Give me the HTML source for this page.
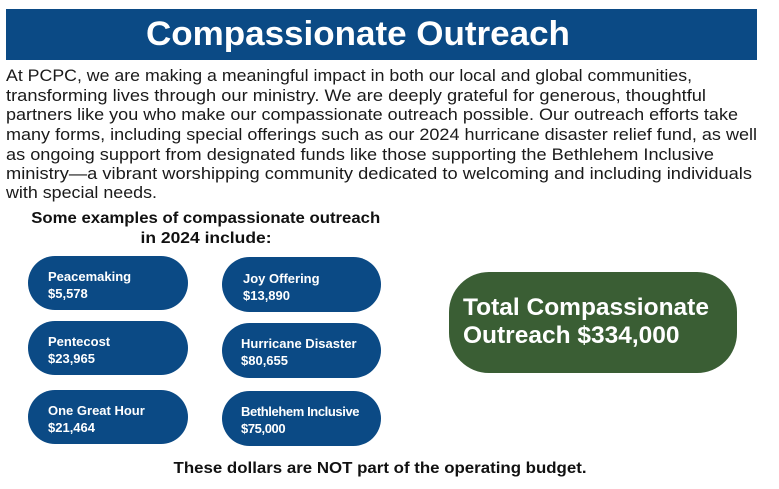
<!DOCTYPE html>
<html><head><meta charset="utf-8"><style>
body{margin:0;width:779px;height:489px;background:#fff;position:relative;overflow:hidden;font-family:"Liberation Sans",sans-serif}
.abs{position:absolute;white-space:nowrap}
.hdr{left:6px;top:9px;width:751px;height:51px;background:#0b4a85}
.title{left:0;top:9px;width:716px;height:51px;line-height:51px;text-align:center;color:#fff;font-weight:bold;font-size:34px}
.ln{left:6px;font-size:17px;color:#1a1a1a;transform-origin:0 50%;height:20px;line-height:20px}
.sub{font-weight:bold;font-size:16px;color:#111;transform-origin:50% 50%;text-align:center}
.pill{background:#0b4a85;border-radius:28px;color:#fff;font-weight:bold;font-size:13px;line-height:17px;box-sizing:border-box}
.green{left:449px;top:272px;width:288px;height:101px;background:#3a5e34;border-radius:40px;color:#fff;font-weight:bold;font-size:24.5px;line-height:28px;padding:22px 0 0 14px;box-sizing:border-box}
</style></head><body>
<div class="abs hdr"></div>
<div class="abs title"><div class="fitc" data-w="424">Compassionate Outreach</div></div>
<div>
<div class="abs ln" data-w="686" style="top:66px">At PCPC, we are making a meaningful impact in both our local and global communities,</div>
<div class="abs ln" data-w="700" style="top:86px">transforming lives through our ministry. We are deeply grateful for generous, thoughtful</div>
<div class="abs ln" data-w="732" style="top:105px">partners like you who make our compassionate outreach possible. Our outreach efforts take</div>
<div class="abs ln" data-w="751" style="top:125px">many forms, including special offerings such as our 2024 hurricane disaster relief fund, as well</div>
<div class="abs ln" data-w="708" style="top:145px">as ongoing support from designated funds like those supporting the Bethlehem Inclusive</div>
<div class="abs ln" data-w="746" style="top:164px">ministry—a vibrant worshipping community dedicated to welcoming and including individuals</div>
<div class="abs ln" data-w="151" style="top:183px">with special needs.</div>
</div>
<div class="abs sub" style="left:0;width:412px;top:209px;line-height:20px">
<div class="fitc" data-w="349">Some examples of compassionate outreach</div>
<div class="fitc" data-w="131">in 2024 include:</div>
</div>
<div class="abs pill" style="left:28px;top:256px;width:160px;height:54px;padding:12px 0 0 20px">Peacemaking<br>$5,578</div>
<div class="abs pill" style="left:222px;top:257px;width:159px;height:55px;padding:13px 0 0 21px">Joy Offering<br>$13,890</div>
<div class="abs pill" style="left:28px;top:321px;width:160px;height:54px;padding:12px 0 0 20px">Pentecost<br>$23,965</div>
<div class="abs pill" style="left:222px;top:323px;width:159px;height:55px;padding:12px 0 0 19px">Hurricane Disaster<br>$80,655</div>
<div class="abs pill" style="left:28px;top:390px;width:160px;height:54px;padding:12px 0 0 20px">One Great Hour<br>$21,464</div>
<div class="abs pill" style="left:222px;top:391px;width:159px;height:55px;padding:12px 0 0 19px;letter-spacing:-0.4px">Bethlehem Inclusive<br>$75,000</div>
<div class="abs green">Total Compassionate<br>Outreach $334,000</div>
<div class="abs sub" style="left:0;width:760px;top:459px;line-height:20px"><div class="fitc" data-w="413">These dollars are NOT part of the operating budget.</div></div>
<script>
document.querySelectorAll('.ln').forEach(function(el){
  var w=+el.getAttribute('data-w');
  var s=document.createElement('span');s.textContent=el.textContent;el.textContent='';el.appendChild(s);
  var a=s.getBoundingClientRect().width;el.style.transform='scaleX('+(w/a)+')';
});
document.querySelectorAll('.fitc').forEach(function(el){
  var w=+el.getAttribute('data-w');
  var s=document.createElement('span');s.textContent=el.textContent;el.textContent='';el.appendChild(s);
  s.style.display='inline-block';
  var a=s.getBoundingClientRect().width;s.style.transform='scaleX('+(w/a)+')';
});
</script>
</body></html>
